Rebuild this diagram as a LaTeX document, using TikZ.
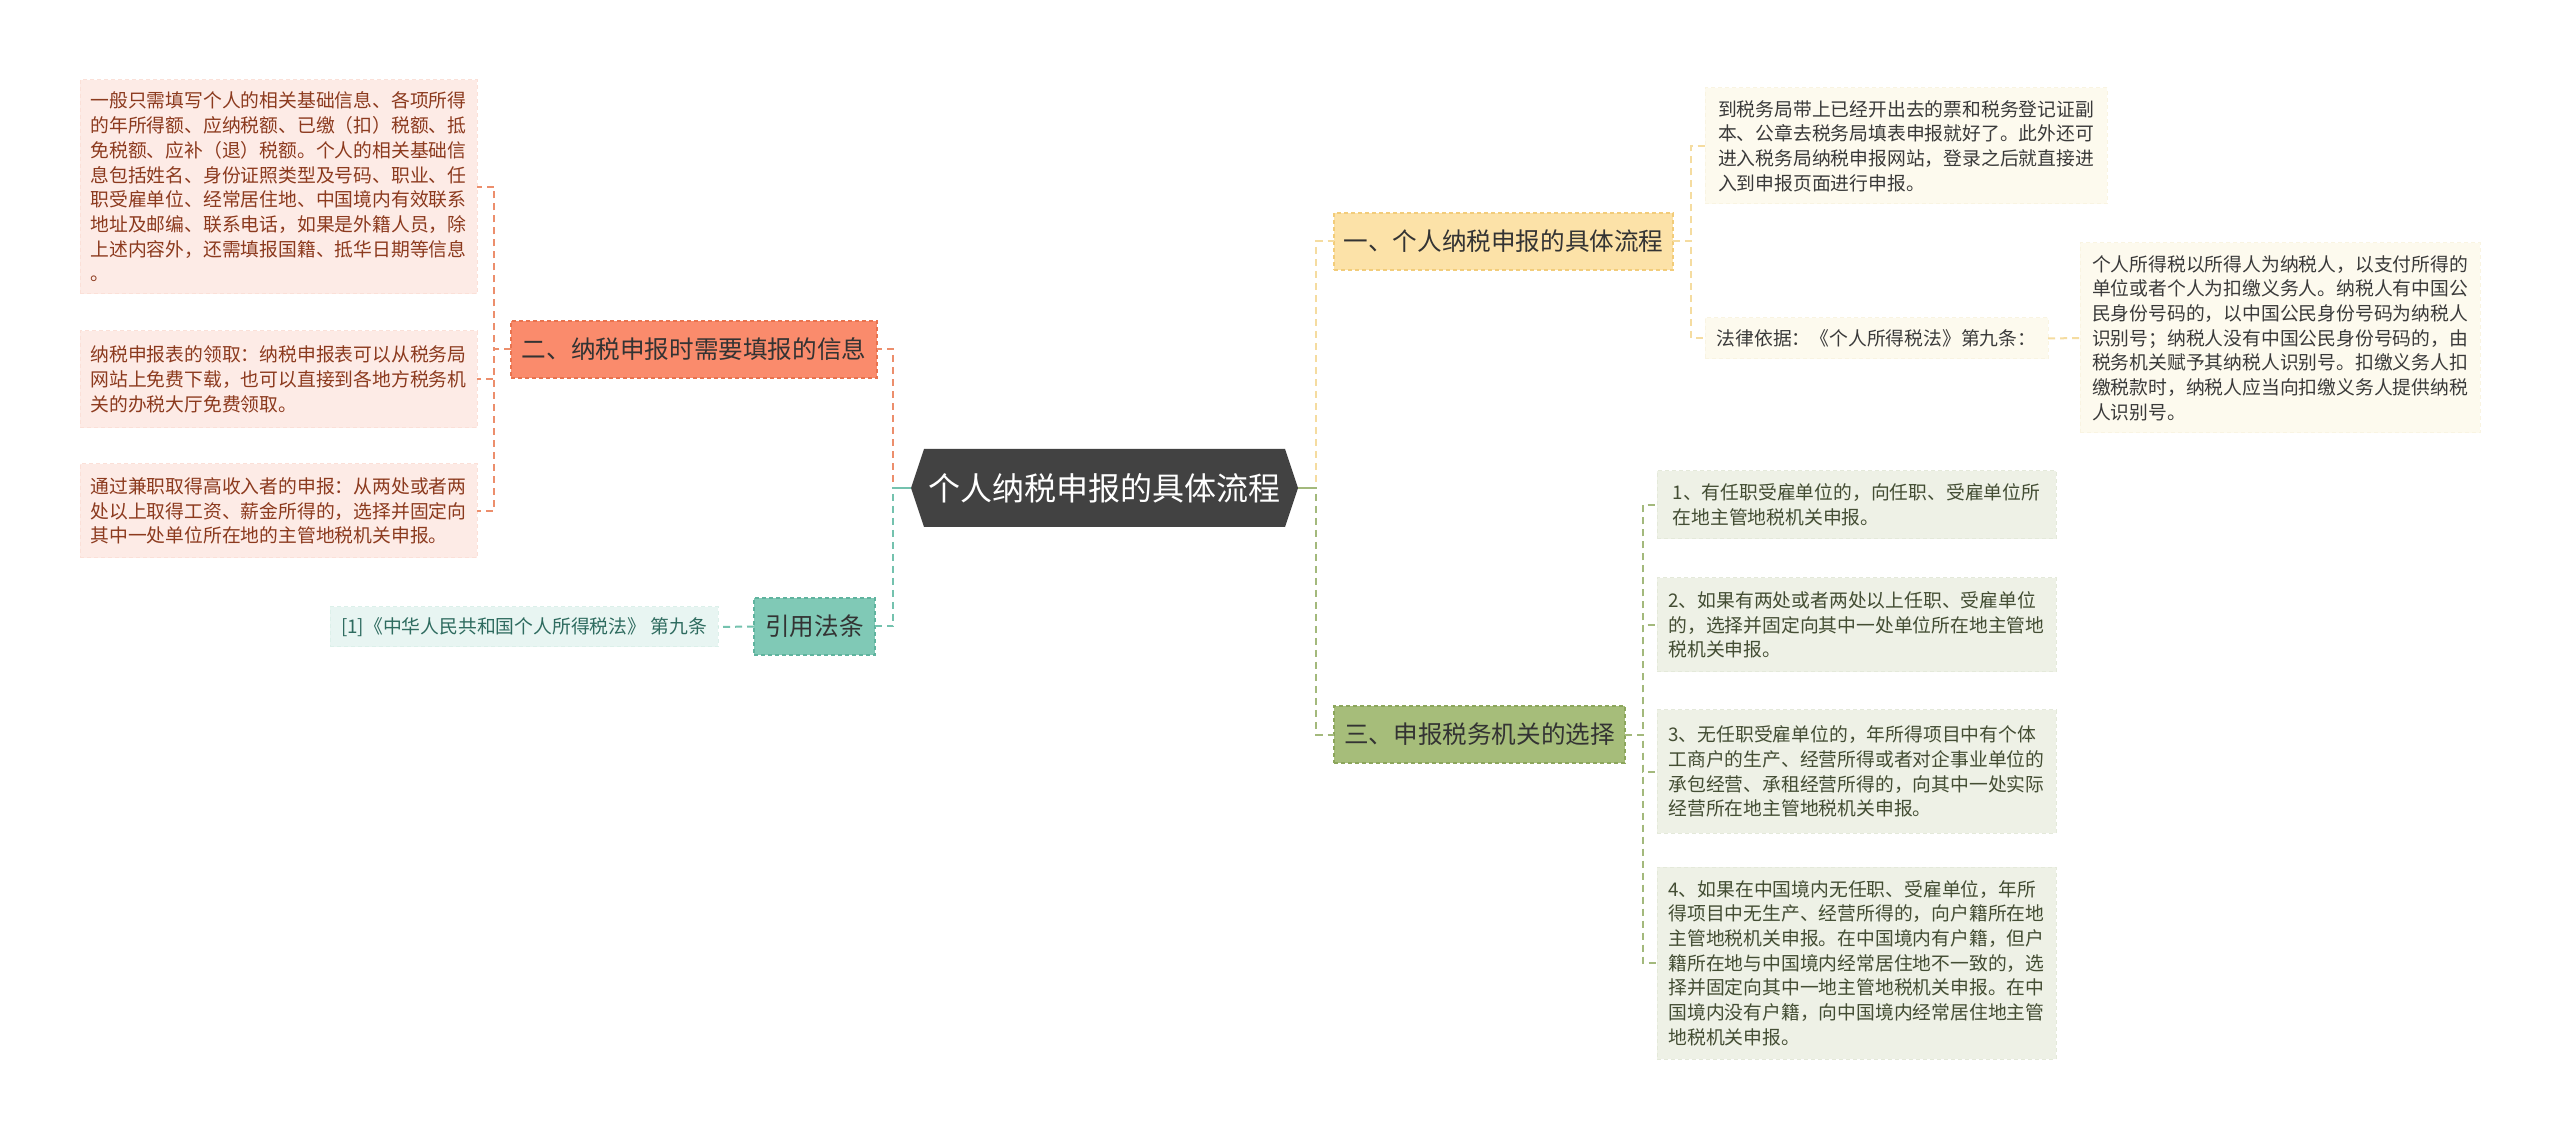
\documentclass[tikz,border=0pt]{standalone}
\usepackage{fontspec}
\setmainfont{Noto Sans CJK SC}
\usetikzlibrary{backgrounds}
\definecolor{rootfill}{HTML}{424242}
\definecolor{orfill}{HTML}{FA8B6C}
\definecolor{ordraw}{HTML}{E8734F}
\definecolor{tefill}{HTML}{80C9B6}
\definecolor{tedraw}{HTML}{5FB39E}
\definecolor{yefill}{HTML}{FCE2A8}
\definecolor{yedraw}{HTML}{F2CC7A}
\definecolor{grfill}{HTML}{A6BD7A}
\definecolor{grdraw}{HTML}{8CA65C}
\definecolor{lpfill}{HTML}{FDEBE6}
\definecolor{lpdraw}{HTML}{FBE0D8}
\definecolor{lpText}{HTML}{8C3A1E}
\definecolor{ltfill}{HTML}{E8F5F2}
\definecolor{ltdraw}{HTML}{DCF0EA}
\definecolor{ltText}{HTML}{2E6B5F}
\definecolor{lyfill}{HTML}{FDFAEE}
\definecolor{lydraw}{HTML}{F9F4E2}
\definecolor{lyText}{HTML}{3A3A3A}
\definecolor{lgfill}{HTML}{EEF1E6}
\definecolor{lgdraw}{HTML}{E4E9DA}
\definecolor{lgText}{HTML}{434D33}
\definecolor{cOr}{HTML}{EC8E6C}
\definecolor{cTe}{HTML}{74C2AE}
\definecolor{cYe}{HTML}{F5DCA0}
\definecolor{cGr}{HTML}{A3B97C}
\definecolor{txtDark}{HTML}{333333}
\begin{document}
\begin{tikzpicture}[x=0.5pt,y=-0.5pt,
  every node/.style={outer sep=0pt},
  lvlone/.style={draw, dash pattern=on 2pt off 1.5pt, line width=0.6pt, minimum height=28.5pt, inner sep=0pt,
    font=\fontsize{12.3pt}{15pt}\selectfont, text=txtDark},
  leafbox/.style={draw, dash pattern=on 2pt off 1.5pt, line width=0.5pt, inner sep=0pt, align=left,
    font=\fontsize{9.4pt}{12.35pt}\selectfont},
  conn/.style={line width=1pt, dash pattern=on 3.5pt off 2.5pt},
  solidconn/.style={line width=1pt}
]
\begin{scope}[on background layer]
\fill[white] (0,0) rectangle (2560,1138);
\end{scope}
\useasboundingbox (0,0) rectangle (2560,1138);

% root
\node[font=\fontsize{16pt}{19pt}\selectfont, text=white, minimum width=193.5pt, minimum height=39pt, inner sep=0pt] (root) at (1104.5,488) {个人纳税申报的具体流程};
\begin{scope}[on background layer]
\fill[rootfill] ([xshift=6.5pt]root.north west) -- ([xshift=-6.5pt]root.north east) -- (root.east)
  -- ([xshift=-6.5pt]root.south east) -- ([xshift=6.5pt]root.south west) -- (root.west) -- cycle;
\end{scope}

% first level
\node[lvlone, fill=orfill, draw=ordraw, minimum width=183pt] (b2) at (694,349.5) {二、纳税申报时需要填报的信息};
\node[lvlone, fill=tefill, draw=tedraw, minimum width=60.5pt] (law) at (814.5,626.5) {引用法条};
\node[lvlone, fill=yefill, draw=yedraw, minimum width=169.5pt] (b1) at (1503.5,241.5) {一、个人纳税申报的具体流程};
\node[lvlone, fill=grfill, draw=grdraw, minimum width=145.5pt] (b3) at (1479.5,734.5) {三、申报税务机关的选择};

% left leaves
\node[leafbox, fill=lpfill, draw=lpdraw, text=lpText, minimum width=198.5pt, minimum height=107pt] (L1) at (278.5,187) {一般只需填写个人的相关基础信息、各项所得\\的年所得额、应纳税额、已缴（扣）税额、抵\\免税额、应补（退）税额。个人的相关基础信\\息包括姓名、身份证照类型及号码、职业、任\\职受雇单位、经常居住地、中国境内有效联系\\地址及邮编、联系电话，如果是外籍人员，除\\上述内容外，还需填报国籍、抵华日期等信息\\。};
\node[leafbox, fill=lpfill, draw=lpdraw, text=lpText, minimum width=198.5pt, minimum height=48.5pt] (L2) at (278.5,379.5) {纳税申报表的领取：纳税申报表可以从税务局\\网站上免费下载，也可以直接到各地方税务机\\关的办税大厅免费领取。};
\node[leafbox, fill=lpfill, draw=lpdraw, text=lpText, minimum width=198.5pt, minimum height=47pt] (L3) at (278.5,511) {通过兼职取得高收入者的申报：从两处或者两\\处以上取得工资、薪金所得的，选择并固定向\\其中一处单位所在地的主管地税机关申报。};
\node[leafbox, fill=ltfill, draw=ltdraw, text=ltText, minimum width=194pt, minimum height=20pt] (cite) at (524,627) {[1]《中华人民共和国个人所得税法》 第九条};

% right leaves
\node[leafbox, fill=lyfill, draw=lydraw, text=lyText, minimum width=201pt, minimum height=58pt] (y1) at (1906,146) {到税务局带上已经开出去的票和税务登记证副\\本、公章去税务局填表申报就好了。此外还可\\进入税务局纳税申报网站，登录之后就直接进\\入到申报页面进行申报。};
\node[leafbox, fill=lyfill, draw=lydraw, text=lyText, minimum width=171.5pt, minimum height=20.5pt] (y2) at (1876.5,338.5) {法律依据：《个人所得税法》第九条：};
\node[leafbox, fill=lyfill, draw=lydraw, text=lyText, minimum width=200pt, minimum height=95pt] (y3) at (2280,338) {个人所得税以所得人为纳税人，以支付所得的\\单位或者个人为扣缴义务人。纳税人有中国公\\民身份号码的，以中国公民身份号码为纳税人\\识别号；纳税人没有中国公民身份号码的，由\\税务机关赋予其纳税人识别号。扣缴义务人扣\\缴税款时，纳税人应当向扣缴义务人提供纳税\\人识别号。};

\node[leafbox, fill=lgfill, draw=lgdraw, text=lgText, minimum width=199.5pt, minimum height=34pt] (g1) at (1856.5,505) {1、有任职受雇单位的，向任职、受雇单位所\\在地主管地税机关申报。};
\node[leafbox, fill=lgfill, draw=lgdraw, text=lgText, minimum width=199.5pt, minimum height=47pt] (g2) at (1856.5,625) {2、如果有两处或者两处以上任职、受雇单位\\的，选择并固定向其中一处单位所在地主管地\\税机关申报。};
\node[leafbox, fill=lgfill, draw=lgdraw, text=lgText, minimum width=199.5pt, minimum height=61.5pt] (g3) at (1856.5,771.5) {3、无任职受雇单位的，年所得项目中有个体\\工商户的生产、经营所得或者对企事业单位的\\承包经营、承租经营所得的，向其中一处实际\\经营所在地主管地税机关申报。};
\node[leafbox, fill=lgfill, draw=lgdraw, text=lgText, minimum width=199.5pt, minimum height=96pt] (g4) at (1856.5,963) {4、如果在中国境内无任职、受雇单位，年所\\得项目中无生产、经营所得的，向户籍所在地\\主管地税机关申报。在中国境内有户籍，但户\\籍所在地与中国境内经常居住地不一致的，选\\择并固定向其中一地主管地税机关申报。在中\\国境内没有户籍，向中国境内经常居住地主管\\地税机关申报。};

% connectors left
\draw[conn, cOr] (root.west) -- ++(-18,0) |- (b2.east);
\draw[conn, cTe] (root.west) -- ++(-18,0) |- (law.east);
\draw[solidconn, cTe] (root.west) -- ++(-18,0);
\draw[conn, cOr] (b2.west) -- ++(-17,0) |- (L1.east);
\draw[conn, cOr] (b2.west) -- ++(-17,0) |- (L2.east);
\draw[conn, cOr] (b2.west) -- ++(-17,0) |- (L3.east);
\draw[conn, cTe] (law.west) -- (cite.east);

% connectors right
\draw[conn, cYe] (root.east) -- ++(18,0) |- (b1.west);
\draw[conn, cGr] (root.east) -- ++(18,0) |- (b3.west);
\draw[solidconn, cGr] (root.east) -- ++(18,0);
\draw[conn, cYe] (b1.east) -- ++(18,0) |- (y1.west);
\draw[conn, cYe] (b1.east) -- ++(18,0) |- (y2.west);
\draw[conn, cYe] (y2.east) -- (y3.west);
\draw[conn, cGr] (b3.east) -- ++(18,0) |- (g1.west);
\draw[conn, cGr] (b3.east) -- ++(18,0) |- (g2.west);
\draw[conn, cGr] (b3.east) -- ++(18,0) |- (g3.west);
\draw[conn, cGr] (b3.east) -- ++(18,0) |- (g4.west);
\end{tikzpicture}
\end{document}
